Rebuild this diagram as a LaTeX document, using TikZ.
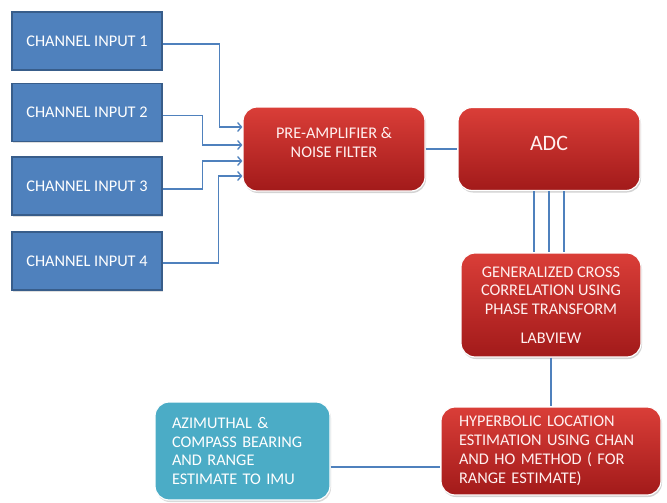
\documentclass[tikz,border=0pt]{standalone}
\usepackage{fontspec}
\setsansfont{Carlito}
\usepackage{xcolor}
\usepackage{tikz}
\usetikzlibrary{positioning}
\usetikzlibrary{arrows.meta}
\usetikzlibrary{shadows}

\definecolor{chanblue}{RGB}{79,129,189}
\definecolor{chanedge}{RGB}{56,93,138}
\definecolor{redtop}{RGB}{218,62,56}
\definecolor{redbot}{RGB}{162,26,26}
\definecolor{aqua}{RGB}{75,172,198}
\definecolor{wireblue}{RGB}{79,129,189}

\begin{document}
\begin{tikzpicture}[
    x=1pt, y=-1pt,
    font=\sffamily\fontsize{16.3}{18.8}\selectfont,
    chan/.style={
        draw=chanedge,
        fill=chanblue,
        line width=1.6pt,
        text=white,
        minimum width=150pt,
        minimum height=58pt,
        drop shadow={opacity=0.25, shadow xshift=1pt, shadow yshift=-1.5pt}
    },
    stage/.style={
        draw=white,
        line width=1.2pt,
        rounded corners=14pt,
        top color=redtop,
        bottom color=redbot,
        text=white!94!red,
        align=center,
        drop shadow={opacity=0.35, shadow xshift=1pt, shadow yshift=-2pt}
    },
    result/.style={
        draw=white,
        line width=1.2pt,
        rounded corners=14pt,
        fill=aqua,
        text=white,
        align=left,
        drop shadow={opacity=0.3, shadow xshift=1pt, shadow yshift=-2pt}
    },
    conn/.style={
        draw=wireblue,
        line width=1.3pt
    },
    feed/.style={
        conn,
        -{Straight Barb[length=4pt,width=9pt,line width=1.3pt]}
    }
]
\useasboundingbox (0,0) rectangle (667,503);

% --- Channel inputs
\node[chan] (in1) at (87,41) {CHANNEL INPUT 1};
\node[chan] (in2) at (87,112.5) {CHANNEL INPUT 2};
\node[chan] (in3) at (87,186) {CHANNEL INPUT 3};
\node[chan] (in4) at (87,261) {CHANNEL INPUT 4};

% --- Processing chain
\node[stage, minimum width=182pt, minimum height=84pt, text depth=13pt] (preamp) at (334,149) {
PRE-AMPLIFIER \&\\
NOISE FILTER
};

\node[stage, minimum width=182pt, minimum height=83pt, text depth=12pt,
      font=\sffamily\fontsize{22}{26}\selectfont] (adc) at (549,149) {ADC};

\node[stage, minimum width=180pt, minimum height=104pt] (gcc) at (551,305) {
GENERALIZED CROSS\\
CORRELATION USING\\
PHASE TRANSFORM\\[10pt]
LABVIEW
};

\node[stage, align=left, text width=184pt, inner xsep=18pt,
      minimum width=220pt, minimum height=88pt] (hyper) at (551,451) {
HYPERBOLIC LOCATION\\
ESTIMATION USING CHAN\\
AND HO METHOD ( FOR\\
RANGE ESTIMATE)
};

\node[result, text width=141pt, inner xsep=17pt,
      minimum width=175pt, minimum height=98pt] (azim) at (242.5,451) {
AZIMUTHAL \&\\
COMPASS BEARING\\
AND RANGE\\
ESTIMATE TO IMU
};

% --- Connections
\draw[feed] ([yshift=-3pt]in1.east) -- ++(57,0) |- ([yshift=22pt]preamp.west);
\draw[feed] ([yshift=-3pt]in2.east) -- ++(40,0) |- ([yshift=4pt]preamp.west);
\draw[feed] ([yshift=-3pt]in3.east) -- ++(40,0) |- ([yshift=-12pt]preamp.west);
\draw[feed] ([yshift=-2pt]in4.east) -- ++(56,0) |- ([yshift=-27pt]preamp.west);

\draw[conn] (preamp) -- (adc);

\draw[conn] ([xshift=-15pt]adc.south) -- ([xshift=-15pt]adc.south |- gcc.north);
\draw[conn] (adc.south) -- (adc.south |- gcc.north);
\draw[conn] ([xshift=15pt]adc.south) -- ([xshift=15pt]adc.south |- gcc.north);

\draw[conn] (gcc) -- (hyper);
\draw[conn] ([yshift=-16pt]azim.east) -- ([yshift=-16pt]hyper.west);

\end{tikzpicture}
\end{document}
